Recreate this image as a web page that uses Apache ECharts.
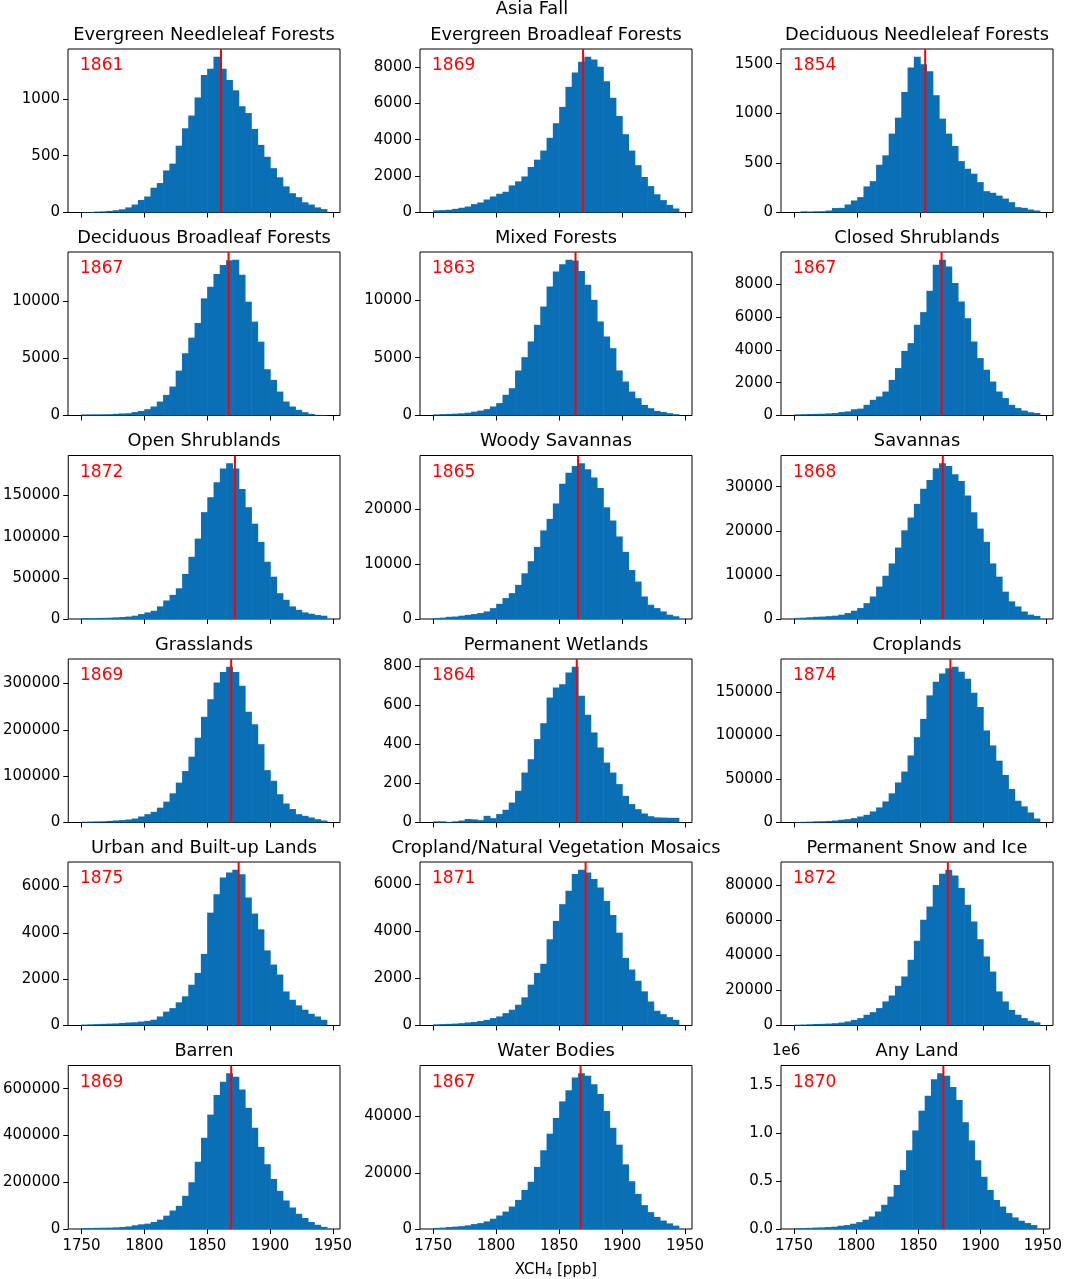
<!DOCTYPE html>
<html>
<head>
<meta charset="utf-8">
<script src="https://cdn.jsdelivr.net/npm/echarts@6.0.0/dist/echarts.min.js"></script>
<style>
html, body { margin: 0; padding: 0; background: #fff; }
#chart { width: 1065px; height: 1279px; }
</style>
</head>
<body>
<div id="chart"></div>
<script>
// bin edges (5 ppb bins), shared by all panels
const binEdges = [1750, 1755, 1760, 1765, 1770, 1775, 1780, 1785, 1790, 1795,
                  1800, 1805, 1810, 1815, 1820, 1825, 1830, 1835, 1840, 1845,
                  1850, 1855, 1860, 1865, 1870, 1875, 1880, 1885, 1890, 1895,
                  1900, 1905, 1910, 1915, 1920, 1925, 1930, 1935, 1940, 1945];
const xTicks = [1750, 1800, 1850, 1900, 1950];

const panelNames = [
    'Evergreen Needleleaf Forests', 'Evergreen Broadleaf Forests', 'Deciduous Needleleaf Forests',
    'Deciduous Broadleaf Forests', 'Mixed Forests', 'Closed Shrublands',
    'Open Shrublands', 'Woody Savannas', 'Savannas',
    'Grasslands', 'Permanent Wetlands', 'Croplands',
    'Urban and Built-up Lands', 'Cropland/Natural Vegetation Mosaics', 'Permanent Snow and Ice',
    'Barren', 'Water Bodies', 'Any Land'
];
const medians = [1861, 1869, 1854, 1867, 1863, 1867, 1872, 1865, 1868,
                 1869, 1864, 1874, 1875, 1871, 1872, 1869, 1867, 1870];

// counts per bin
const evergreenNeedleleaf = [3, 5, 8, 10, 14, 20, 28, 45, 70, 110, 141, 218, 259, 370, 430, 588, 741, 853, 1012, 1209,
    1265, 1370, 1265, 1165, 1075, 935, 875, 735, 595, 490, 390, 310, 230, 170, 135, 90, 70, 45, 30];
const evergreenBroadleaf = [120, 130, 150, 200, 260, 330, 460, 550, 715, 880, 1030, 1140, 1490, 1710, 1980, 2500, 2900, 3400, 4100, 4900,
    5800, 6900, 7690, 8275, 8550, 8400, 8000, 7200, 6300, 5300, 4300, 3400, 2600, 1950, 1450, 1000, 680, 420, 220];
const deciduousNeedleleaf = [2, 12, 10, 12, 13, 20, 45, 47, 81, 121, 155, 263, 316, 481, 576, 795, 956, 1215, 1461, 1569,
    1495, 1424, 1182, 946, 795, 670, 518, 441, 391, 306, 215, 199, 170, 140, 104, 54, 47, 30, 20];
const deciduousBroadleaf = [95, 100, 105, 110, 115, 150, 180, 200, 300, 400, 550, 785, 1220, 1800, 2530, 3920, 5440, 6800, 8080, 10230,
    11250, 12350, 13140, 13550, 13600, 12300, 9940, 8200, 6450, 4040, 3110, 2090, 1220, 785, 494, 290, 145, 58, 30];
const mixedForests = [100, 120, 140, 160, 190, 240, 330, 420, 550, 780, 1070, 1790, 2360, 3890, 5040, 6400, 7840, 9420, 11150, 12450,
    13080, 13460, 13400, 12500, 11300, 10000, 8130, 6830, 5820, 3890, 2940, 2070, 1500, 920, 630, 400, 300, 200, 115];
const closedShrublands = [70, 80, 90, 100, 110, 130, 150, 210, 250, 380, 420, 650, 955, 1160, 1460, 2170, 2890, 3940, 4410, 5530,
    6300, 7600, 9190, 9490, 9085, 8070, 6950, 5930, 4510, 3500, 2790, 2070, 1460, 1060, 650, 450, 300, 200, 150];
const openShrublands = [1100, 1200, 1300, 1400, 1600, 2000, 2400, 3000, 4000, 6000, 8000, 10000, 15300, 22500, 29300, 37300, 54600, 75500, 97600, 129700,
    147800, 166000, 182700, 189000, 182700, 157800, 135700, 115700, 93600, 69500, 51400, 31300, 23300, 15300, 11200, 8000, 6400, 4800, 4000];
const woodySavannas = [180, 250, 400, 450, 600, 750, 900, 1080, 1380, 1980, 2760, 3800, 4700, 6200, 8300, 10500, 13100, 16100, 18200, 21000,
    24600, 26600, 27800, 28300, 27200, 25700, 23800, 20300, 17900, 15000, 12200, 8900, 6800, 4100, 2580, 1980, 1380, 780, 500];
const savannas = [250, 300, 400, 500, 550, 650, 750, 975, 1350, 1880, 2480, 3600, 5100, 7350, 9800, 12600, 16200, 20100, 23000, 26100,
    29500, 31500, 34200, 35300, 34700, 32800, 31300, 28000, 24200, 20500, 17500, 12600, 9600, 6200, 4000, 2850, 1700, 975, 700];
const grasslands = [1800, 2000, 2300, 2600, 3500, 4500, 5200, 6500, 8600, 13000, 18000, 23000, 32000, 45000, 63000, 86000, 111000, 142000, 183000, 228000,
    266000, 302000, 325000, 336000, 325000, 295000, 239000, 212000, 169000, 113000, 90000, 61000, 41000, 29000, 18000, 14400, 10800, 7200, 4300];
const wetlands = [6, 6, 3, 6, 10, 18, 16, 12, 34, 22, 43, 65, 102, 162, 255, 323, 426, 507, 638, 689,
    706, 766, 795, 647, 550, 460, 383, 306, 255, 196, 136, 94, 68, 46, 32, 26, 25, 24, 24];
const croplands = [700, 800, 1000, 1300, 1500, 1800, 2300, 3100, 3800, 5000, 6900, 8800, 12700, 17300, 24200, 33500, 46000, 58500, 77000, 98000,
    119000, 146000, 161500, 171000, 177000, 178800, 173000, 165000, 149000, 132600, 105700, 88500, 71000, 54600, 38500, 25000, 18500, 11500, 4600];
const urban = [40, 50, 60, 70, 80, 90, 110, 130, 140, 170, 200, 250, 390, 600, 750, 1000, 1260, 1760, 2270, 3090,
    4870, 5660, 6390, 6600, 6720, 6530, 5520, 4830, 4150, 3240, 2630, 2200, 1470, 1110, 870, 680, 505, 390, 245];
const mosaics = [50, 60, 70, 80, 100, 130, 150, 190, 240, 315, 385, 525, 670, 880, 1195, 1735, 2230, 2620, 3660, 4440,
    5150, 5720, 6430, 6610, 6500, 6220, 5860, 5290, 4690, 3940, 2870, 2375, 1900, 1450, 1020, 625, 480, 355, 240];
const snowIce = [450, 550, 700, 850, 950, 1100, 1300, 1700, 2300, 3200, 4200, 6100, 7600, 9900, 13700, 17100, 22600, 27900, 37400, 48200,
    60150, 67700, 80000, 86300, 88600, 85400, 78200, 68700, 59200, 49100, 39300, 30700, 19400, 13700, 8900, 6100, 4200, 2700, 1800];
const barren = [4000, 4500, 5000, 5500, 6000, 7000, 8500, 11000, 16000, 20000, 23000, 30000, 40000, 57000, 79000, 99000, 142000, 200000, 287500, 390000,
    489000, 573000, 630000, 665700, 651000, 596000, 518000, 433000, 351000, 277000, 214000, 163000, 122000, 92000, 65000, 47000, 30000, 18000, 9000];
const waterBodies = [400, 500, 700, 850, 1000, 1300, 1750, 2100, 2700, 3650, 4800, 6200, 8000, 10350, 13900, 16800, 22100, 28000, 33900, 39500,
    45400, 49400, 53900, 55400, 54500, 51500, 48000, 42000, 36000, 30000, 23000, 17000, 12500, 8500, 6000, 4300, 3000, 2000, 1200];
const anyLand = [8000, 10000, 12000, 15000, 17000, 20000, 24000, 34000, 41000, 55000, 72000, 97000, 131000, 183000, 252000, 338000, 459000, 614000, 821000, 1028000,
    1234000, 1390000, 1562000, 1624000, 1597000, 1480000, 1345000, 1114000, 924000, 717000, 545000, 407000, 303000, 234000, 166000, 121000, 86000, 62000, 41000];

const panelCounts = [evergreenNeedleleaf, evergreenBroadleaf, deciduousNeedleleaf,
    deciduousBroadleaf, mixedForests, closedShrublands,
    openShrublands, woodySavannas, savannas,
    grasslands, wetlands, croplands,
    urban, mosaics, snowIce,
    barren, waterBodies, anyLand];

const yTicks = [
    [0, 500, 1000], [0, 2000, 4000, 6000, 8000], [0, 500, 1000, 1500],
    [0, 5000, 10000], [0, 5000, 10000], [0, 2000, 4000, 6000, 8000],
    [0, 50000, 100000, 150000], [0, 10000, 20000], [0, 10000, 20000, 30000],
    [0, 100000, 200000, 300000], [0, 200, 400, 600, 800], [0, 50000, 100000, 150000],
    [0, 2000, 4000, 6000], [0, 2000, 4000, 6000], [0, 20000, 40000, 60000, 80000],
    [0, 200000, 400000, 600000], [0, 20000, 40000], [0, 500000, 1000000, 1500000]
];

const FONT = 'DejaVu Sans';
const barColor = '#0b6fb5';
const colLeft = [68, 420, 781];
const rowTop = [49, 252, 455.5, 659, 862, 1065.5];
const plotW = 272, plotH = 163.5;
const xMin = 1739.5, xMax = 1955.5;

function renderBar(params, api) {
    let p0 = api.coord([api.value(0), api.value(2)]);
    let p1 = api.coord([api.value(1), 0]);
    return {
        type: 'rect',
        shape: { x: p0[0], y: p0[1], width: p1[0] - p0[0] + 0.6, height: p1[1] - p0[1] },
        style: { fill: barColor }
    };
}

let grids = [], xAxes = [], yAxes = [], series = [];
let titles = [{
    text: 'Asia Fall', left: 532, top: 0, textAlign: 'center', padding: 0,
    textStyle: { fontFamily: FONT, fontSize: 17.8, fontWeight: 'normal', color: '#000' }
}];

panelNames.forEach((name, k) => {
    let r = Math.floor(k / 3), c = k % 3;
    let left = colLeft[c], top = rowTop[r];
    let counts = panelCounts[k];
    let ymax = Math.max.apply(Math, counts) * 1.05;     // matplotlib top margin
    let isLand = name === 'Any Land';

    grids.push({ left: left, top: top, width: plotW, height: plotH,
        show: true, borderColor: '#000', borderWidth: 1, backgroundColor: 'transparent' });

    xAxes.push({
        type: 'value', gridIndex: k, min: xMin, max: xMax,
        splitLine: { show: false },
        axisLine: { show: false },
        axisTick: { show: true, customValues: xTicks, length: 5, lineStyle: { color: '#000', width: 1 } },
        axisLabel: { show: r === 5, customValues: xTicks, fontFamily: FONT, fontSize: 15, color: '#000', margin: 10,
            formatter: (v) => String(v) }
    });
    yAxes.push({
        type: 'value', gridIndex: k, min: 0, max: ymax,
        splitLine: { show: false },
        axisLine: { show: false },
        axisTick: { show: true, customValues: yTicks[k], length: 5, lineStyle: { color: '#000', width: 1 } },
        axisLabel: {
            customValues: yTicks[k], fontFamily: FONT, fontSize: 15, color: '#000', margin: 8,
            formatter: (v) => isLand ? (v / 1e6).toFixed(1) : String(v)
        }
    });

    series.push({
        type: 'custom', xAxisIndex: k, yAxisIndex: k, silent: true,
        renderItem: renderBar, encode: { x: [0, 1], y: 2 },
        data: counts.map((v, i) => [binEdges[i], binEdges[i + 1], v])
    });
    series.push({
        type: 'line', xAxisIndex: k, yAxisIndex: k, silent: true, symbol: 'none', z: 5,
        lineStyle: { color: '#ff0000', width: 2 },
        data: [[medians[k], 0], [medians[k], ymax]]
    });

    titles.push({
        text: name, left: left + plotW / 2, top: top - 23, textAlign: 'center', padding: 0,
        textStyle: { fontFamily: FONT, fontSize: 17.8, fontWeight: 'normal', color: '#000' }
    });
    titles.push({
        text: String(medians[k]), left: left + 12, top: top + 8.5, padding: 0,
        textStyle: { fontFamily: FONT, fontSize: 17, fontWeight: 'normal', color: '#ff0000' }
    });
});

titles.push({
    text: '1e6', left: 772, top: 1044, padding: 0,
    textStyle: { fontFamily: FONT, fontSize: 15, fontWeight: 'normal', color: '#000' }
});
titles.push({
    text: 'XCH{sub|4} [ppb]', left: 556, top: 1262, textAlign: 'center', padding: 0,
    textStyle: {
        fontFamily: FONT, fontSize: 15, fontWeight: 'normal', color: '#000',
        rich: { sub: { fontFamily: FONT, fontSize: 10, color: '#000', verticalAlign: 'bottom', padding: [6, 0, 0, 0] } }
    }
});

let chart = echarts.init(document.getElementById('chart'));
chart.setOption({
    animation: false,
    backgroundColor: '#fff',
    title: titles,
    grid: grids,
    xAxis: xAxes,
    yAxis: yAxes,
    series: series
});
</script>
</body>
</html>
